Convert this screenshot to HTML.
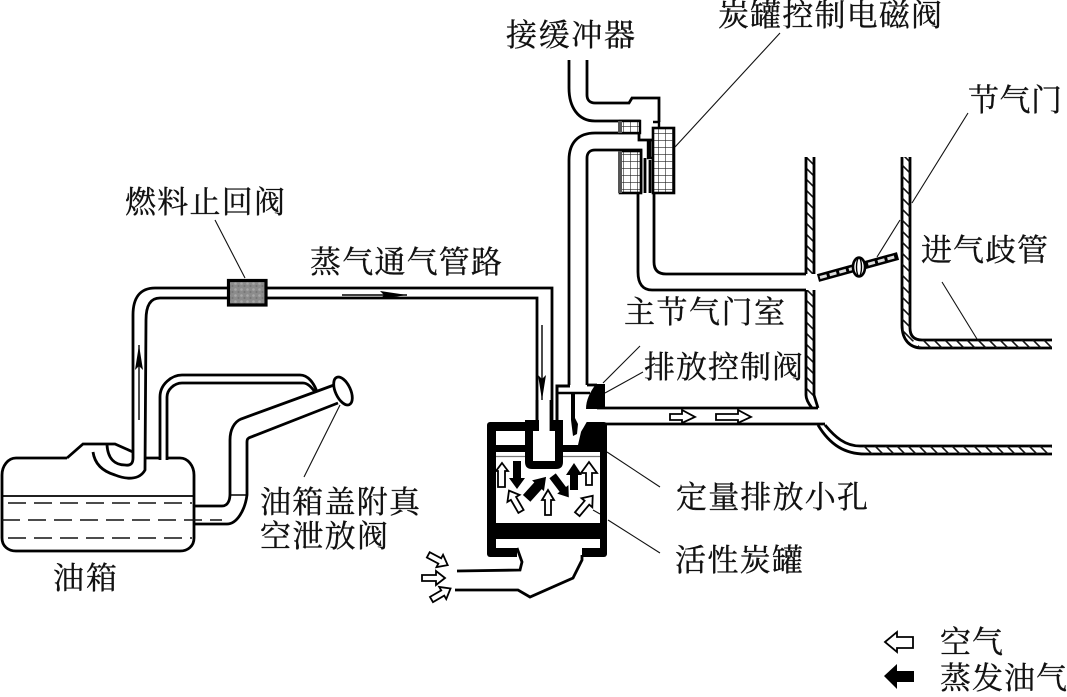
<!DOCTYPE html>
<html><head><meta charset="utf-8"><style>
html,body{margin:0;padding:0;background:#fff}
svg{display:block}
text{font-family:"Liberation Serif","Noto Serif CJK SC",serif;font-size:31px;fill:#111;stroke:#111;stroke-width:.35px}
</style></head><body>
<svg width="1067" height="697" viewBox="0 0 1067 697" xmlns="http://www.w3.org/2000/svg">
<defs>
<pattern id="h" patternUnits="userSpaceOnUse" width="11" height="11"><path d="M-1,-1L12,12M-1,10L1,12M10,-1L12,1" stroke="#111" stroke-width="1.6"/></pattern>
<pattern id="g" patternUnits="userSpaceOnUse" width="7" height="7"><rect width="7" height="7" fill="#fff"/><path d="M0,0H7M0,0V7" stroke="#222" stroke-width="1.2"/></pattern>
<pattern id="n" patternUnits="userSpaceOnUse" width="6" height="6"><rect width="6" height="6" fill="#8c8c8c"/><circle cx="1.500" cy="1.500" r="1.300" fill="#a8a8a8"/><circle cx="4.500" cy="4" r="1.100" fill="#777"/></pattern>
</defs>

<!-- tank -->
<g fill="none" stroke="#000" stroke-width="2.8">
<path d="M93,452C95,466 105,472 115,475C125,479 139,481 145,470L146,320C146,306 150,298 160,298H537V425"/>
<path d="M107,445C108,460 116,465 125,465C131,466 133,463 133,458L133,315C133,298 140,288 155,288H552V425"/>
<path d="M67,458L83,444H115L133,452M146,458H160M167,458H180C188,458 194,466 194,475V538C194,546 188,551 180,551H16C8,551 2,546 2,538V475C2,466 8,458 16,458H67"/>
<path d="M160,460V397C160,384 172,375 182,375H300C308,375 314,383 317,392"/>
<path d="M167,460V397C167,390 174,383 182,383H303C308,383 312,388 315,392"/>
<path d="M194,506H222C228,506 230,500 230,494V440C230,430 234,422 241,419L315,392L334,385"/>
<path d="M194,524H227C237,524 245,510 247,495V442C247,439 248,438 251,437L338,403"/>
</g>
<path d="M230,495H247" stroke="#000" stroke-width="1.6"/>
<path d="M2,496H194" stroke="#000" stroke-width="1.8"/>
<g stroke="#111" stroke-width="1.6" stroke-dasharray="18,8" fill="none">
<path d="M8,503H192"/><path d="M2,520H222"/><path d="M8,538H192"/>
</g>
<ellipse cx="343" cy="391" rx="7.500" ry="15" transform="rotate(-25 343 391)" fill="#fff" stroke="#000" stroke-width="2.800"/>

<!-- vapor line arrows -->
<path d="M139,420V345" stroke="#000" stroke-width="1.400"/><path d="M139,345L135,370L139,366L143,370Z" fill="#000"/>
<path d="M342,295H407" stroke="#000" stroke-width="1.400"/><path d="M407,295L380,291L384,295L380,299Z" fill="#000"/>
<path d="M542,325V400" stroke="#000" stroke-width="1.400"/><path d="M542,400L538,375L542,379L546,375Z" fill="#000"/>

<!-- check valve -->
<rect x="228.500" y="280.500" width="37.500" height="24.500" fill="url(#n)" stroke="#000" stroke-width="3.200"/>

<!-- top pipes -->
<g fill="none" stroke="#000" stroke-width="2.800">
<path d="M569,60V88C569,107 578,121 595,121H639V133"/>
<path d="M587,60V95C587,100 590,103 595,103H629L632,98H659V122"/>
<path d="M569,385V160C569,143 578,133 595,133H639V140L641,140H652"/>
<path d="M587,385V158C587,153 590,150 595,150H641V193"/>
<path d="M638,193V272C638,284 643,290 652,290H806"/>
<path d="M654,193V262C654,270 658,274 666,274H806"/>
<path d="M650,140V158M645,158V193M650,160V193"/>
</g>
<rect x="620" y="121" width="20" height="12" fill="url(#g)" stroke="#000" stroke-width="2.400"/>
<rect x="620" y="151" width="21" height="42" fill="url(#g)" stroke="#000" stroke-width="2.600"/>
<rect x="653" y="128" width="21" height="65" fill="url(#g)" stroke="#000" stroke-width="2.600"/>
<path d="M653,122H659V128" fill="none" stroke="#000" stroke-width="2.400"/>
<path d="M648,140V158H654" fill="none" stroke="#000" stroke-width="2.400"/>
<path d="M620,121V133M620,151V193" stroke="#555" stroke-width="4" fill="none"/>

<!-- throttle chamber walls -->
<rect x="806" y="157" width="8" height="117" fill="url(#h)"/>
<path d="M806,290H814V395L818,408L806,396Z" fill="url(#h)"/>
<g fill="none" stroke="#000" stroke-width="2.800">
<path d="M806,157V274M814,157V274M806,290V395C806,399 808,403 812,408M814,290V395L818,408"/>
<path d="M597,408H818"/>
<path d="M585,424H825"/>
<path d="M825,425C835,437 845,446 860,446H1052"/>
<path d="M818,425C830,445 845,454 865,454H1052"/>
<path d="M902,157V325C902,340 910,348 922,348H1052"/>
<path d="M910,157V328C910,336 914,340 922,340H1052"/>
</g>
<path d="M860,446H1052V454H865Z" fill="url(#h)"/>
<path d="M902,157H910V328C910,334 912,338 916,340L908,344C904,340 902,333 902,325Z" fill="url(#h)"/>
<path d="M918,340H1052V348H918Z" fill="url(#h)"/>

<!-- throttle -->
<path d="M818,278L898,256" stroke="#000" stroke-width="8"/>
<path d="M820,277.500L896,256.500" stroke="#ddd" stroke-width="3" stroke-dasharray="7,3"/>
<ellipse cx="859" cy="267" rx="6" ry="9.500" fill="#fff" stroke="#000" stroke-width="2.600"/>
<ellipse cx="859" cy="267" rx="2.500" ry="9" fill="none" stroke="#000" stroke-width="1.400"/>

<!-- canister -->
<rect x="487" y="422" width="120" height="135" rx="3" fill="#000"/>
<rect x="496" y="431" width="29" height="14" fill="#fff"/>
<rect x="496" y="452" width="104" height="71" fill="#fff"/>
<path d="M496,456.500H600" stroke="#777" stroke-width="1.200"/>
<rect x="496" y="539" width="104" height="9" fill="#fff"/>
<path d="M517,545H582V560H517Z" fill="#fff"/>
<path d="M563,418H589L581,432L578,445H563Z" fill="#fff"/>
<path d="M525,445V462Q525,469 532,469H556Q563,469 563,462V420H525Z" fill="#000"/>
<rect x="533" y="431" width="22" height="30" fill="#fff"/>
<rect x="539" y="418" width="11" height="16" fill="#fff"/>
<path d="M537,400V431M551,400V431" stroke="#000" stroke-width="2.800"/>
<path d="M557,424V386H570" fill="none" stroke="#000" stroke-width="3"/>
<path d="M558,393H590" stroke="#000" stroke-width="2.400"/>
<path d="M571,393V420L573,436L577,434L578,424L575,418V393Z" fill="#000"/>
<path d="M587,385H597" stroke="#000" stroke-width="2.800"/>
<path d="M596,384H605V409H586C586,400 590,392 596,384Z" fill="#000"/>
<path d="M581,432Q585,424 592,424H606V435H581Z" fill="#000"/>
<path d="M517,548L522,562L520,570L457,571" fill="none" stroke="#000" stroke-width="2.800"/>
<path d="M455,590H518L530,597L573,578L582,560V555" fill="none" stroke="#000" stroke-width="2.800"/>

<!-- canister arrows -->
<g stroke="#000" stroke-width="1.800" fill="#fff">
<polygon transform="translate(502,475)" points="0,-12 6,-4 3,-4 3,12 -4,12 -4,-4 -6,-4"/>
<polygon transform="translate(589,474)" points="0,-12 8,-1 3,-1 3,11 -3,11 -3,-1 -8,-1"/>
<polygon transform="translate(548,502) " points="0,-12 6,-2 3,-2 3,13 -3,13 -3,-2 -6,-2"/>
<polygon transform="translate(515,501) rotate(-30)" points="0,-12 7,-3 3,-3 3,12 -3,12 -3,-3 -7,-3"/>
<polygon transform="translate(585,505) rotate(40)" points="0,-12 7,-3 3,-3 3,12 -3,12 -3,-3 -7,-3"/>
</g>
<g fill="#000">
<polygon transform="translate(517,475)" points="0,14 8,3 4,3 4,-14 -4,-14 -4,3 -8,3"/>
<polygon transform="translate(574,477)" points="0,-14 8,-2 4,-2 4,13 -4,13 -4,-2 -8,-2"/>
<polygon transform="translate(536,488) rotate(42)" points="0,-15 8,-3 5,-3 5,14 -5,14 -5,-3 -8,-3"/>
<polygon transform="translate(561,487) rotate(143)" points="0,-13 7,-3 4,-3 4,14 -4,14 -4,-3 -7,-3"/>
</g>

<!-- flow arrows -->
<g stroke="#000" stroke-width="1.800" fill="#fff">
<polygon points="670,414 682,414 682,410 695,417 682,423 682,420 670,420"/>
<polygon points="716,414 738,414 738,410 751,417 738,423 738,420 716,420"/>
<polygon transform="translate(438,560) rotate(118)" points="0,-11 7,-2 3,-2 3,11 -3,11 -3,-2 -7,-2"/>
<polygon transform="translate(433,578) rotate(90)" points="0,-12 7,-3 3,-3 3,11 -3,11 -3,-3 -7,-3"/>
<polygon transform="translate(441,594) rotate(60)" points="0,-11 7,-2 3,-2 3,11 -3,11 -3,-2 -7,-2"/>
<polygon points="885,642 897,632 897,637 913,637 913,648 897,648 897,652"/>
</g>
<polygon points="884,676 897,664 897,671 914,671 914,682 897,682 897,689" fill="#000"/>

<!-- leaders -->
<g stroke="#111" stroke-width="1.100" fill="none">
<path d="M215,220L245,278"/>
<path d="M780,33L675,147"/>
<path d="M968,113L912,203M900,220L877,257"/>
<path d="M942,282L977,339"/>
<path d="M640,346L603,383"/>
<path d="M643,372L605,393"/>
<path d="M607,452L660,487"/>
<path d="M593,510L600,514M608,520L660,553"/>
<path d="M340,405L304,477"/>
</g>

<!-- labels -->
<text x="506" y="46" textLength="129">接缓冲器</text>
<text x="718" y="26" textLength="224">炭罐控制电磁阀</text>
<text x="968" y="111" textLength="94">节气门</text>
<text x="125" y="213" textLength="160">燃料止回阀</text>
<text x="310" y="273" textLength="192">蒸气通气管路</text>
<text x="921" y="261" textLength="127">进气歧管</text>
<text x="624" y="323" textLength="161">主节气门室</text>
<text x="644" y="378" textLength="159">排放控制阀</text>
<text x="676" y="508" textLength="192">定量排放小孔</text>
<text x="260" y="513" textLength="160">油箱盖附真</text>
<text x="260" y="547" textLength="128">空泄放阀</text>
<text x="675" y="571" textLength="128">活性炭罐</text>
<text x="53" y="589" textLength="64">油箱</text>
<text x="940" y="653" textLength="63">空气</text>
<text x="940" y="689" textLength="127">蒸发油气</text>
</svg>
</body></html>
